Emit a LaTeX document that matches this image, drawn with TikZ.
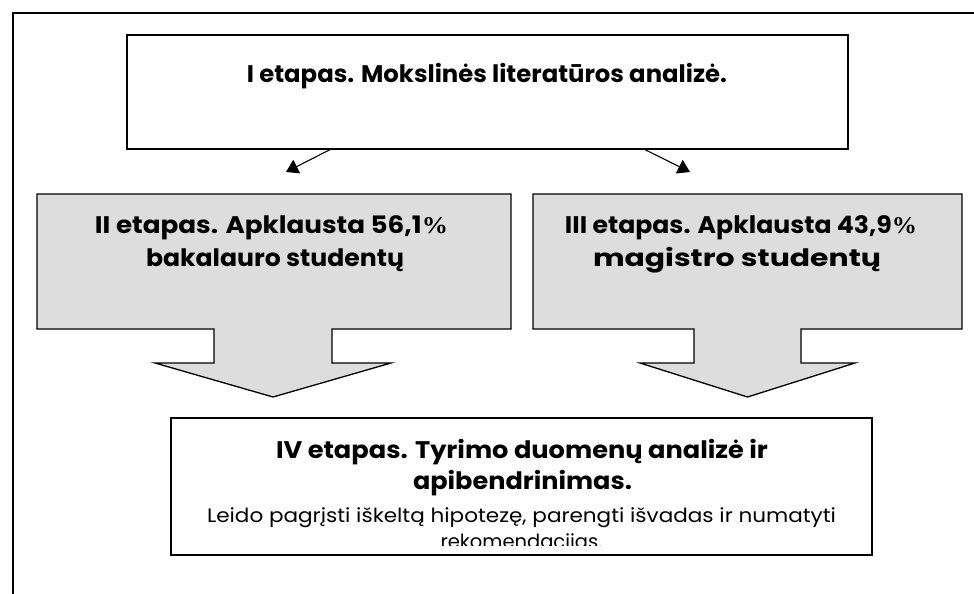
\documentclass[tikz,border=0pt]{standalone}
\usepackage{fontspec}
\setmainfont{Poppins}
\newfontfamily\pctfont{Liberation Serif}
\usetikzlibrary{arrows.meta}
\definecolor{boxgray}{HTML}{DDDDDD}
\tikzset{
  frameline/.style={line width=1.6pt, draw=black},
  boxline/.style={line width=1.3pt, draw=black},
  titletext/.style={font=\bfseries\fontsize{24}{28}\selectfont, inner sep=0pt, anchor=base},
  bodytext/.style={font=\fontsize{19.5}{23}\selectfont, inner sep=0pt, anchor=base},
  conn/.style={line width=1.1pt, -{Triangle[length=12pt,width=15pt]}},
}
\newcommand{\pct}{{\pctfont\%}}
\newcommand{\fitw}[2]{\resizebox{#1}{\height}{#2}}
\begin{document}
\begin{tikzpicture}[x=1pt,y=-1pt]
\useasboundingbox (0,0) rectangle (974,594);
% outer frame (only top and left edges visible)
\draw[frameline] (13,600) -- (13,13) -- (980,13);
% stage I box
\node[boxline, fill=white, rectangle, minimum width=721pt, minimum height=114pt, inner sep=0pt] (top) at (487.5,92) {};
\node[titletext] (toptext) at (487,83) {\fitw{480pt}{I etapas. Mokslinės literatūros analizė.}};
% stage II block arrow
\path[boxline, fill=boxgray] (37,194) -- (511,194) -- (511,329) -- (332,329) -- (332,363) -- (391,363) -- (273,397) -- (155,363) -- (214,363) -- (214,329) -- (37,329) -- cycle;
\node[inner sep=0pt, minimum width=474pt, minimum height=135pt] (left) at (274,261.5) {};
\node[titletext] (lefta) at (271.5,233) {\fitw{353pt}{II etapas. Apklausta 56,1\pct}};
\node[titletext] (leftb) at (275,266) {\fitw{258pt}{bakalauro studentų}};
% stage III block arrow
\path[boxline, fill=boxgray] (533,194) -- (962,194) -- (962,329) -- (801,329) -- (801,363) -- (855,363) -- (747.5,397) -- (640,363) -- (694,363) -- (694,329) -- (533,329) -- cycle;
\node[inner sep=0pt, minimum width=429pt, minimum height=135pt] (right) at (747.5,261.5) {};
\node[titletext] (righta) at (741,233) {\fitw{352pt}{III etapas. Apklausta 43,9\pct}};
\node[titletext] (rightb) at (737,266) {\fitw{288pt}{magistro studentų}};
% connectors from stage I
\coordinate (tipl) at (286,172);
\coordinate (tipr) at (690,172);
\draw[conn] ([xshift=-157.5pt]top.south) -- (tipl);
\draw[conn] ([xshift=157.5pt]top.south) -- (tipr);
% stage IV box
\node[boxline, fill=white, rectangle, minimum width=701pt, minimum height=137pt, inner sep=0pt] (bottom) at (521.5,486.5) {};
\node[titletext] (bota) at (522,458) {\fitw{492pt}{IV etapas. Tyrimo duomenų analizė ir}};
\node[titletext] (botb) at (522.5,489) {\fitw{219pt}{apibendrinimas.}};
\begin{scope}
\clip (171,418) rectangle (872,545);
\node[bodytext] (botc) at (521.5,522) {\fitw{629pt}{Leido pagrįsti iškeltą hipotezę, parengti išvadas ir numatyti}};
\node[bodytext] (botd) at (521.5,548) {rekomendacijas.};
\end{scope}
\end{tikzpicture}
\end{document}
